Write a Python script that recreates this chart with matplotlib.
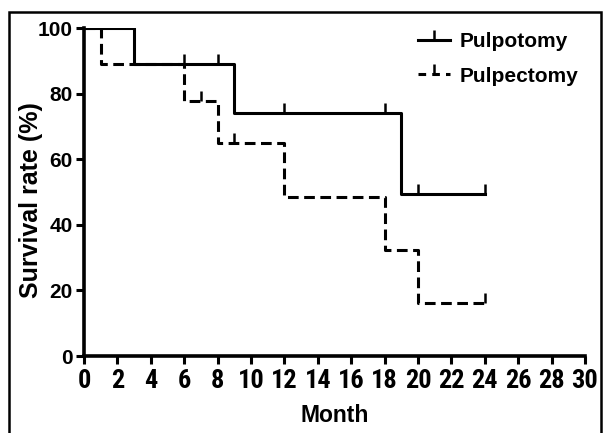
import numpy as np
import matplotlib
matplotlib.use("Agg")
import matplotlib.pyplot as plt
from matplotlib import font_manager
from matplotlib.lines import Line2D
from matplotlib.patches import Rectangle

# Kaplan-Meier steps
pulpotomy_t = [0, 3, 9, 19, 24]
pulpotomy_s = [100, 88.9, 74.1, 49.4, 49.4]
pulpotomy_cens_t = [6, 8, 12, 18, 20, 24]
pulpotomy_cens_s = [88.9, 88.9, 74.1, 74.1, 49.4, 49.4]

pulpectomy_t = [0, 1, 6, 8, 12, 18, 20, 24]
pulpectomy_s = [100, 88.9, 77.8, 64.8, 48.6, 32.4, 16.2, 16.2]
pulpectomy_cens_t = [7, 9, 24]
pulpectomy_cens_s = [77.8, 64.8, 16.2]

x_ticks = list(range(0, 31, 2))
y_ticks = [0, 20, 40, 60, 80, 100]

names = {f.name for f in font_manager.fontManager.ttflist}
main_font = "Liberation Sans" if "Liberation Sans" in names else "DejaVu Sans"
narrow_font = None
for cand in ["Liberation Sans Narrow", "Roboto Condensed", "DejaVu Sans Condensed",
             "Open Sans Condensed"]:
    if cand in names:
        narrow_font = cand
        break
plt.rcParams['font.family'] = main_font
plt.rcParams['font.weight'] = 'bold'

fig = plt.figure(figsize=(6.03, 4.33), dpi=100)
ax = fig.add_axes([84/603, 1-356/433, (585-84)/603, (356-28)/433])

lw = 2.2
ax.step(pulpotomy_t, pulpotomy_s, where='post', color='black', lw=lw)
ax.plot(pulpotomy_cens_t, pulpotomy_cens_s, ls='none', marker=2, ms=7, mew=1.8, color='black')
ax.step(pulpectomy_t, pulpectomy_s, where='post', color='black', lw=lw, dashes=(3.5, 1.8))
ax.plot(pulpectomy_cens_t, pulpectomy_cens_s, ls='none', marker=2, ms=7, mew=1.8, color='black')

# legend handles: line with a censor tick
h1 = Line2D([], [], color='black', lw=lw, marker=2, ms=7, mew=1.8)
h2 = Line2D([], [], color='black', lw=lw, dashes=(2.5, 2.0), marker=2, ms=7, mew=1.8)
ax.legend([h1, h2], ["Pulpotomy", "Pulpectomy"], loc='upper right', frameon=False,
          prop={'family': main_font, 'weight': 'bold', 'size': 15},
          handlelength=1.5, handletextpad=0.5, labelspacing=0.75,
          bbox_to_anchor=(1.025, 1.045))

ax.set_xlim(0, 30)
ax.set_ylim(0, 100)
ax.set_xticks(x_ticks)
ax.set_yticks(y_ticks)
if narrow_font:
    ax.set_xticklabels([str(v) for v in x_ticks], fontfamily=narrow_font, fontsize=19, fontweight='bold')
else:
    ax.set_xticklabels([str(v) for v in x_ticks], fontsize=16, fontweight='bold')
ax.set_yticklabels([str(v) for v in y_ticks], fontsize=15, fontweight='bold')
ax.tick_params(direction='out', length=6, width=2.2, pad=2)
ax.tick_params(axis='x', pad=3)

for s in ['top', 'right']:
    ax.spines[s].set_visible(False)
for s in ['left', 'bottom']:
    ax.spines[s].set_linewidth(2.6)

ax.set_xlabel("Month", fontsize=16.5, fontweight='bold', labelpad=8)
ax.set_ylabel("Survival rate (%)", fontsize=18, fontweight='bold')
ax.yaxis.set_label_coords(-0.082, 0.475)

# outer frame of the original figure
fig.add_artist(Rectangle((9/603, -0.02), (601-9)/603, 1-12/433+0.02, transform=fig.transFigure,
                         fill=False, lw=1.8, edgecolor='black'))

fig.savefig("out.png", dpi=100)
